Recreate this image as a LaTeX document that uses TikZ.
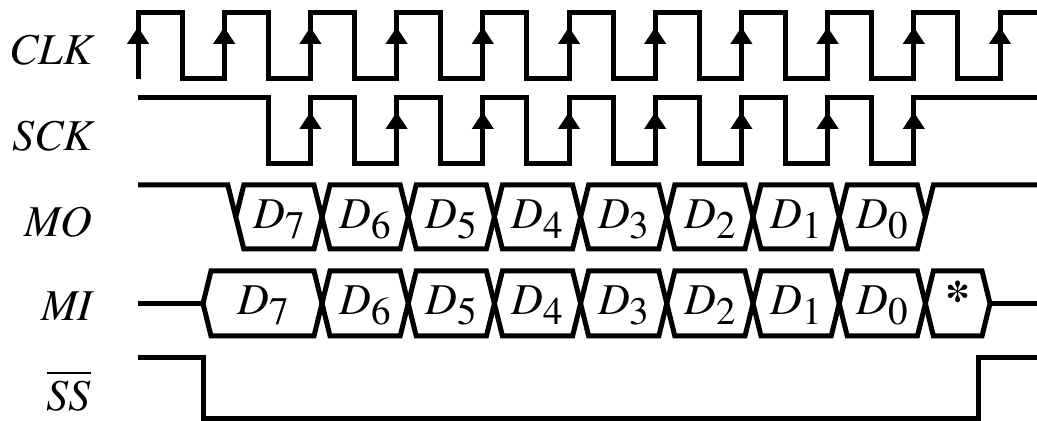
\documentclass[tikz,border=0pt]{standalone}
\usepackage{fontspec}
\setmainfont{texgyretermes-regular.otf}[ItalicFont=texgyretermes-italic.otf, BoldFont=texgyretermes-bold.otf]
\usetikzlibrary{arrows.meta}
\tikzset{
	x=0.5pt, y=-0.5pt, % one unit is one pixel of the sketch, y runs downwards
	wave/.style={line width=2.5pt, line join=miter}, % every signal trace
	edgemark/.style={-{Triangle[width=10.5pt,length=8.5pt]}, line width=2.5pt}, % arrow on a rising edge
	signame/.style={anchor=base east, inner sep=0pt, font=\fontsize{22}{26}\selectfont\itshape}, % signal names on the left
	bitname/.style={inner sep=0pt, font=\fontsize{22}{26}\selectfont\itshape}, % text inside a data cell
}
\newcommand{\dbit}[1]{D\raisebox{-5pt}{\fontsize{19.5}{22}\selectfont\upshape #1}}
\newcommand{\barred}[1]{\vbox{\hrule height 1pt \kern 4pt \hbox{#1}}}

\begin{document}
\begin{tikzpicture}
	\useasboundingbox (0,0) rectangle (1037,421);

	% signal names
	\node[signame] (clk) at (93,65) {CLK};
	\node[signame] (sck) at (93,151) {SCK};
	\node[signame] (mo) at (93,237) {MO};
	\node[signame] (mi) at (93,321) {MI};
	\node[signame] (ss) at (91,411) {\barred{SS}};

	% CLK
	\draw[wave] (138,79) \foreach \k in {0,...,9}{
		-- ({138+86.2*\k},79) -- ({138+86.2*\k},13) -- ({182+86.2*\k},13) -- ({182+86.2*\k},79)}
		-- (1000,79) -- (1000,13) -- (1037,13);
	\foreach \k in {0,...,10}
		\draw[edgemark] ({138+86.2*\k},79) -- ({138+86.2*\k},27);

	% SCK
	\draw[wave] (138,98) -- (268.2,98) -- (268.2,164) \foreach \k in {2,...,8}{
		-- ({138+86.2*\k},164) -- ({138+86.2*\k},98) -- ({182+86.2*\k},98) -- ({182+86.2*\k},164)}
		-- (913.8,164) -- (913.8,98) -- (1037,98);
	\foreach \k in {2,...,9}
		\draw[edgemark] ({138+86.2*\k},164) -- ({138+86.2*\k},112);

	% MO
	\draw[wave] (138,185) -- (227.8,185) -- (235.8,217);
	\foreach \k in {0,...,7}{
		\pgfmathsetmacro\xa{235.8+86.2*\k}
		\pgfmathsetmacro\xb{\xa+86.2}
		\pgfmathtruncatemacro\b{7-\k}
		\draw[wave] (\xa,217) -- ({\xa+8},185) -- ({\xb-8},185) -- (\xb,217)
			-- ({\xb-8},249) -- ({\xa+8},249) -- cycle;
		\node[bitname] (mo\b) at ({(\xa+\xb)/2},219) {\dbit{\b}};
	}
	\draw[wave] (925.4,217) -- (933.4,185) -- (1037,185);

	% MI
	\draw[wave] (138,303.5) -- (203,303.5);
	\draw[wave] (203,303.5) -- (211,271) -- (314,271) -- (322,303.5)
		-- (314,336) -- (211,336) -- cycle;
	\node[bitname] (mi7) at (263,305.5) {\dbit{7}};
	\foreach \k in {1,...,7}{
		\pgfmathsetmacro\xa{235.8+86.2*\k}
		\pgfmathsetmacro\xb{\xa+86.2}
		\pgfmathtruncatemacro\b{7-\k}
		\draw[wave] (\xa,303.5) -- ({\xa+8},271) -- ({\xb-8},271) -- (\xb,303.5)
			-- ({\xb-8},336) -- ({\xa+8},336) -- cycle;
		\node[bitname] (mi\b) at ({(\xa+\xb)/2},305.5) {\dbit{\b}};
	}
	\draw[wave] (925.4,303.5) -- (933.4,271) -- (982,271) -- (990,303.5)
		-- (982,336) -- (933.4,336) -- cycle;
	\node[bitname, anchor=base, font=\fontsize{25}{28}\selectfont\bfseries] (mistar) at (957.7,316) {*};
	\draw[wave] (990,303.5) -- (1037,303.5);

	% SS
	\draw[wave] (138,357.5) -- (203.5,357.5) -- (203.5,418.5) -- (978.5,418.5) -- (978.5,357.5) -- (1037,357.5);
\end{tikzpicture}
\end{document}
